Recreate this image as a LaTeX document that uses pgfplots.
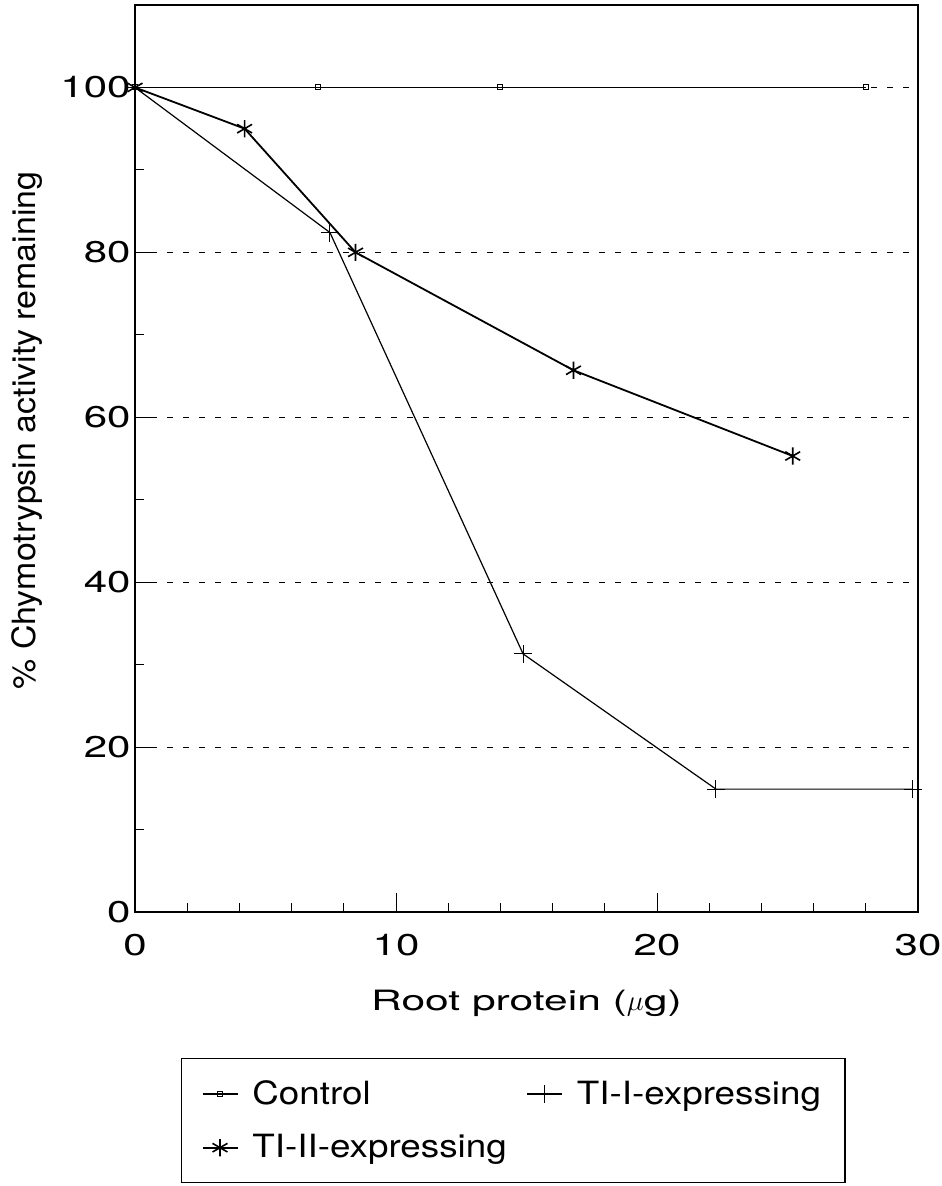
\documentclass[border=0pt]{standalone}
\usepackage{fontspec}
\setmainfont{TeX Gyre Heros}
\newfontfamily\tickfont[FakeStretch=1.4]{TeX Gyre Heros}
\newfontfamily\xlabfont[FakeStretch=1.52]{TeX Gyre Heros}
\newfontfamily\ylabfont[FakeStretch=1.06]{TeX Gyre Heros}
\newfontfamily\legfont[FakeStretch=1.15]{TeX Gyre Heros}
\usepackage{pgfplots}
\pgfplotsset{compat=1.18}

\begin{document}
\begin{tikzpicture}
\begin{axis}[
  scale only axis,
  width=391.5pt, height=453.5pt,
  xmin=0, xmax=30, ymin=0, ymax=110,
  xtick={0,10,20,30}, ytick={0,20,40,60,80,100},
  minor x tick num=4, minor y tick num=1,
  tick pos=left, tick align=inside,
  major tick length=9.5pt, minor tick length=4.5pt,
  every tick/.style={black, line width=0.5pt},
  axis line style={line width=0.8pt},
  ymajorgrids,
  major grid style={black, line width=0.45pt, dash pattern=on 3pt off 5pt},
  /pgf/number format/assume math mode=true,
  tick label style={font=\fontsize{15}{18}\selectfont\tickfont},
  xticklabel style={anchor=base, yshift=-21.5pt},
  yticklabel style={anchor=east, xshift=1.3pt},
  xlabel={Root protein ($\mu$g)},
  ylabel={\% Chymotrypsin activity remaining},
  xlabel style={font=\fontsize{14}{17}\selectfont\xlabfont,
    at={([yshift=-49pt]axis description cs:0.5,0)}, anchor=base},
  ylabel style={font=\fontsize{16}{19}\selectfont\ylabfont,
    at={([xshift=-49.5pt,yshift=14pt]axis description cs:0,0.5)}, anchor=base},
  legend columns=2,
  legend cell align=left,
  legend style={at={([xshift=23pt, yshift=-73pt]axis description cs:0,0)},
    anchor=north west,
    font=\fontsize{16}{19}\selectfont\legfont, draw=black, line width=0.6pt,
    inner xsep=10pt, inner ysep=9pt,
    row sep=9.5pt,
    /tikz/every odd column/.append style={column sep=5pt},
    /tikz/every even column/.append style={column sep=8pt}},
  legend image code/.code={\draw[#1, mark repeat=2, mark phase=2]
    plot coordinates {(0pt,0pt) (8.75pt,0pt) (17.5pt,0pt)};},
]
\addplot[black, line width=0.7pt, mark=square, mark size=1.25pt,
  mark options={line width=0.5pt}] coordinates {
  (0,100) (7.0,100) (14.0,100) (28.0,100)
};
\addlegendentry{Control}
\addplot[black, line width=0.6pt, mark=+, mark size=4.5pt,
  mark options={line width=0.5pt}] coordinates {
  (0,100) (7.47,82.4) (14.87,31.3) (22.26,14.9) (29.8,14.9)
};
\addlegendentry{TI-I-expressing}
\addplot[black, line width=0.9pt, mark=asterisk, mark size=4.3pt,
  mark options={line width=0.8pt}] coordinates {
  (0,100) (4.2,95.0) (8.45,80.0) (16.8,65.7) (25.2,55.3)
};
\addlegendentry{TI-II-expressing}
\end{axis}
\pgfresetboundingbox
\path ([xshift=-67.5pt,yshift=-137pt]current axis.south west)
  rectangle ([xshift=11.5pt,yshift=2.5pt]current axis.north east);
\end{tikzpicture}
\end{document}
